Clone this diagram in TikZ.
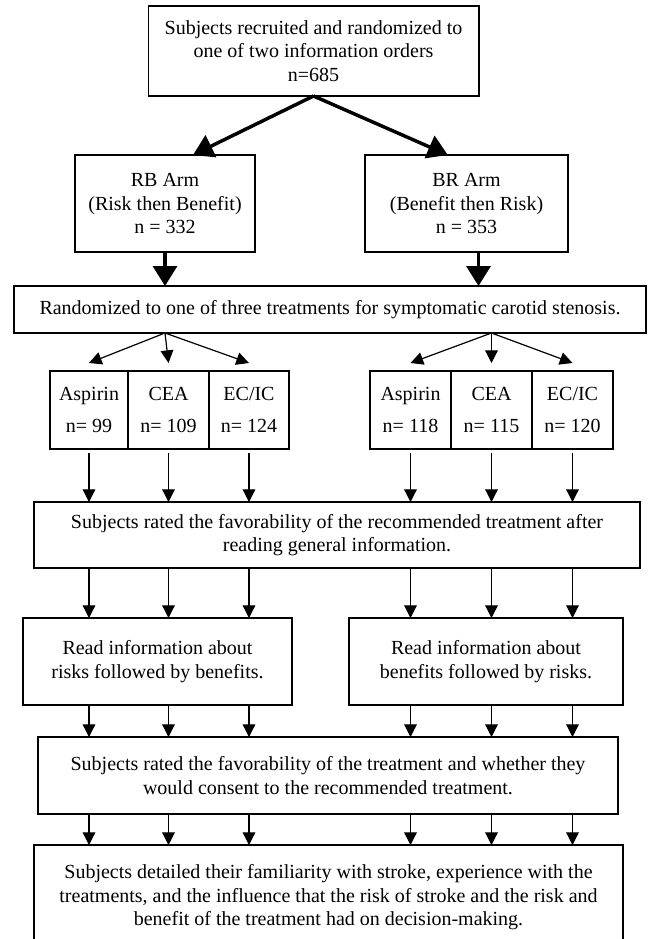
\documentclass[tikz,border=0pt]{standalone}
\usepackage{fontspec}
\setmainfont{Liberation Serif}
\usepackage{tikz}
\usetikzlibrary{positioning,arrows.meta}

\begin{document}
\begin{tikzpicture}[x=0.75pt, y=-0.75pt,
    box/.style={rectangle, draw, line width=1pt, outer sep=0pt, inner sep=0pt, align=center, font=\fontsize{15}{17.6}\selectfont},
    treat/.style={box, minimum width=60.75pt, minimum height=58.5pt, font=\fontsize{15}{24}\selectfont},
    arrow/.style={-{Triangle[length=9.5pt, width=9.5pt]}, line width=0.9pt},
    bigarrow/.style={-{Triangle[length=15pt, width=18pt]}, line width=2.6pt}]

\useasboundingbox (0,0) rectangle (647,939);
\clip (0,0) rectangle (647,939);

\node[box, minimum width=248pt, minimum height=67.5pt] (recruit) at (313.5,51) {Subjects recruited and randomized to\\one of two information orders\\n=685};
\node[box, minimum width=135pt, minimum height=72.75pt] (rbarm) at (165,203.5) {RB Arm\\(Risk then Benefit)\\n = 332};
\node[box, minimum width=152.25pt, minimum height=72.75pt] (brarm) at (466.5,203.5) {BR Arm\\(Benefit then Risk)\\n = 353};
\node[box, minimum width=474pt, minimum height=35.25pt] (treatrand) at (330,309.5) {Randomized to one of three treatments for symptomatic carotid stenosis.};

\node[treat, minimum width=58.5pt] (aspRB) at (89,410) {Aspirin\\n= 99};
\node[treat, right=0pt of aspRB] (ceaRB) {CEA\\n= 109};
\node[treat, minimum width=60pt, right=0pt of ceaRB] (ecicRB) {EC/IC\\n= 124};
\node[treat] (aspBR) at (410.5,410) {Aspirin\\n= 118};
\node[treat, right=0pt of aspBR] (ceaBR) {CEA\\n= 115};
\node[treat, right=0pt of ceaBR] (ecicBR) {EC/IC\\n= 120};

\node[box, minimum width=454.5pt, minimum height=49.5pt] (rate1) at (337,535) {Subjects rated the favorability of the recommended treatment after\\reading general information.};
\node[box, minimum width=201.75pt, minimum height=65.25pt] (readRB) at (157.5,661.5) {Read information about\\risks followed by benefits.};
\node[box, minimum width=205.5pt, minimum height=65.25pt] (readBR) at (486,661.5) {Read information about\\benefits followed by risks.};
\node[box, minimum width=435pt, minimum height=57.75pt] (rate2) at (328,775.5) {Subjects rated the favorability of the treatment and whether they\\would consent to the recommended treatment.};
\node[box, minimum width=441.75pt, minimum height=78.75pt] (detail) at (328.5,897.5) {Subjects detailed their familiarity with stroke, experience with the\\treatments, and the influence that the risk of stroke and the risk and\\benefit of the treatment had on decision-making.};

\draw[bigarrow] (recruit.south) -- ([xshift=21pt]rbarm.north);
\draw[bigarrow] (recruit.south) -- ([xshift=-14pt]brarm.north);
\draw[bigarrow] (rbarm.south) -- (rbarm.south |- treatrand.north);
\draw[bigarrow] ([xshift=9pt]brarm.south) -- ([xshift=9pt]brarm.south |- treatrand.north);

\foreach \t in {aspRB,ceaRB,ecicRB}
  \draw[arrow] (rbarm.south |- treatrand.south) -- ([yshift=6pt]\t.north);
\foreach \t in {aspBR,ceaBR,ecicBR}
  \draw[arrow] (ceaBR.north |- treatrand.south) -- ([yshift=6pt]\t.north);

\foreach \t in {aspRB,ceaRB,ecicRB,aspBR,ceaBR,ecicBR} {
  \draw[arrow] ([yshift=-3pt]\t.south) -- (\t.south |- rate1.north);
  \draw[arrow] (\t.south |- rate1.south) -- (\t.south |- readRB.north);
  \draw[arrow] (\t.south |- readRB.south) -- (\t.south |- rate2.north);
  \draw[arrow] (\t.south |- rate2.south) -- (\t.south |- detail.north);
}
\end{tikzpicture}
\end{document}
